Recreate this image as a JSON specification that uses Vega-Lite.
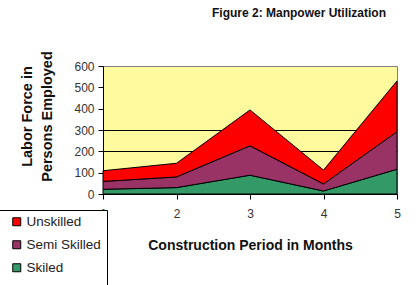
{
  "$schema": "https://vega.github.io/schema/vega-lite/v6.json",
  "width": 294,
  "height": 128,
  "autosize": {"type": "none"},
  "padding": {"left": 103, "top": 66, "right": 23, "bottom": 91},
  "background": "white",
  "title": {
    "text": "Figure 2: Manpower Utilization",
    "font": "Liberation Sans",
    "fontSize": 12,
    "fontWeight": "bold",
    "color": "#111",
    "anchor": "middle",
    "dx": 49,
    "offset": 31,
    "frame": "group"
  },
  "config": {
    "view": {"fill": "#FFFA9E", "stroke": "#808080", "strokeWidth": 1},
    "font": "Liberation Sans"
  },
  "data": {
    "values": [
      {"month": 1, "type": "Skiled", "level": 1, "persons": 22},
      {"month": 1, "type": "Semi Skilled", "level": 2, "persons": 37},
      {"month": 1, "type": "Unskilled", "level": 3, "persons": 50},
      {"month": 2, "type": "Skiled", "level": 1, "persons": 30},
      {"month": 2, "type": "Semi Skilled", "level": 2, "persons": 50},
      {"month": 2, "type": "Unskilled", "level": 3, "persons": 64},
      {"month": 3, "type": "Skiled", "level": 1, "persons": 88},
      {"month": 3, "type": "Semi Skilled", "level": 2, "persons": 138},
      {"month": 3, "type": "Unskilled", "level": 3, "persons": 168},
      {"month": 4, "type": "Skiled", "level": 1, "persons": 14},
      {"month": 4, "type": "Semi Skilled", "level": 2, "persons": 33},
      {"month": 4, "type": "Unskilled", "level": 3, "persons": 65},
      {"month": 5, "type": "Skiled", "level": 1, "persons": 116},
      {"month": 5, "type": "Semi Skilled", "level": 2, "persons": 176},
      {"month": 5, "type": "Unskilled", "level": 3, "persons": 238}
    ]
  },
  "mark": {"type": "area", "stroke": "black", "strokeWidth": 1, "opacity": 1, "fillOpacity": 1},
  "encoding": {
    "x": {
      "field": "month",
      "type": "quantitative",
      "scale": {"domain": [1, 5], "nice": false, "zero": false},
      "axis": {
        "values": [1, 2, 3, 4, 5],
        "format": "d",
        "grid": false,
        "title": "Construction Period in Months",
        "titleFont": "Liberation Sans",
        "titleFontSize": 14,
        "titleFontWeight": "bold",
        "titleColor": "#111",
        "titlePadding": 19,
        "labelFontSize": 12,
        "labelColor": "#333",
        "labelPadding": 9,
        "tickSize": 5,
        "tickColor": "black",
        "domainColor": "black",
        "labelFlush": false
      }
    },
    "y": {
      "field": "persons",
      "type": "quantitative",
      "stack": "zero",
      "scale": {"domain": [0, 600], "nice": false},
      "axis": {
        "values": [0, 100, 200, 300, 400, 500, 600],
        "grid": true,
        "gridColor": "black",
        "gridWidth": 1,
        "gridOpacity": {"condition": {"test": "datum.value > 0 && datum.value <= 300", "value": 1}, "value": 0},
        "title": ["Labor Force in", "Persons Employed"],
        "titleFont": "Liberation Sans",
        "titleFontSize": 14.5,
        "titleFontWeight": "bold",
        "titleColor": "#111",
        "titleLineHeight": 20,
        "titlePadding": 19,
        "titleY": 50,
        "labelFontSize": 12,
        "labelColor": "#333",
        "labelPadding": 4,
        "tickSize": 5,
        "tickColor": "black",
        "domainColor": "black",
        "labelFlush": false
      }
    },
    "color": {
      "field": "type",
      "type": "nominal",
      "scale": {
        "domain": ["Unskilled", "Semi Skilled", "Skiled"],
        "range": ["#FF0000", "#993366", "#339966"]
      },
      "legend": {
        "orient": "none",
        "legendX": -104,
        "legendY": 144,
        "title": [" ", " ", " ", " ", " ", " "],
        "titleOrient": "right",
        "titleFontSize": 12,
        "titleLineHeight": 18,
        "titlePadding": 1,
        "fillColor": "white",
        "strokeColor": "black",
        "padding": 5,
        "symbolType": "square",
        "symbolSize": 64,
        "symbolStrokeColor": "black",
        "symbolStrokeWidth": 1,
        "symbolOpacity": 1,
        "symbolOffset": 6,
        "labelOffset": 3,
        "labelFontSize": 13.5,
        "labelColor": "#222",
        "rowPadding": 8
      }
    },
    "order": {"field": "level", "type": "quantitative", "sort": "ascending"}
  }
}
